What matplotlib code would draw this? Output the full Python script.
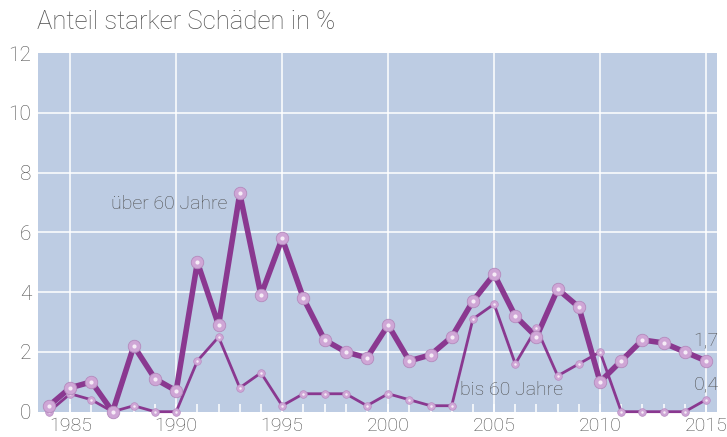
import matplotlib.pyplot as plt
import numpy as np

# Jahre und Anteile (in %)
years = np.arange(1984, 2016)
ueber60 = [0.2, 0.8, 1.0, 0.0, 2.2, 1.1, 0.7, 5.0, 2.9, 7.3, 3.9, 5.8, 3.8, 2.4, 2.0, 1.8,
           2.9, 1.7, 1.9, 2.5, 3.7, 4.6, 3.2, 2.5, 4.1, 3.5, 1.0, 1.7, 2.4, 2.3, 2.0, 1.7]
bis60 = [0.0, 0.6, 0.4, 0.0, 0.2, 0.0, 0.0, 1.7, 2.5, 0.8, 1.3, 0.2, 0.6, 0.6, 0.6, 0.2,
         0.6, 0.4, 0.2, 0.2, 3.1, 3.6, 1.6, 2.8, 1.2, 1.6, 2.0, 0.0, 0.0, 0.0, 0.0, 0.4]
year_ticks = [1985, 1990, 1995, 2000, 2005, 2010, 2015]
y_ticks = [0, 2, 4, 6, 8, 10, 12]

line_col = "#8a3890"
text_col = "#4f4f4f"
bg_col = "#bdcce3"

plt.rcParams['font.family'] = ['Roboto', 'DejaVu Sans']

fig = plt.figure(figsize=(7.27, 4.37), dpi=100)
ax = fig.add_axes([0.0523, 0.0579, 0.934, 0.8208])
ax.set_facecolor(bg_col)
for s in ax.spines.values():
    s.set_visible(False)

ax.set_xlim(1983.48, 2015.52)
ax.set_ylim(0, 12)

# Gitter
for x in year_ticks:
    ax.axvline(x, color="white", lw=1.1, zorder=1)
for y in y_ticks[1:-1]:
    ax.axhline(y, color="white", lw=1.1, zorder=1)

# Linien
ax.plot(years, bis60, color=line_col, lw=2.0, zorder=3, clip_on=False)
ax.plot(years, ueber60, color=line_col, lw=4.0, zorder=4, clip_on=False)

# Kugeln
ax.plot(years, bis60, ls="none", marker="o", ms=5.5, mfc="#cfa6d6", mec="#b88cc1", mew=0.5,
        zorder=5, clip_on=False)
ax.plot(years, bis60, ls="none", marker="o", ms=1.8, mfc="#f6ecf7", mec="none",
        zorder=6, clip_on=False)
ax.plot(years, ueber60, ls="none", marker="o", ms=9, mfc="#cfa6d6", mec="#b38abc", mew=0.6,
        zorder=7, clip_on=False)
ax.plot(years, ueber60, ls="none", marker="o", ms=3, mfc="#f6ecf7", mec="none",
        zorder=8, clip_on=False)

# Achsen
ax.set_xticks(year_ticks)
ax.set_xticks(years, minor=True)
ax.set_yticks(y_ticks)
ax.tick_params(axis="x", which="both", direction="in", colors="white", length=6, width=1.1,
               labelcolor=text_col, labelsize=14, pad=4)
ax.tick_params(axis="y", length=0, labelcolor=text_col, labelsize=15, pad=5)
for lab in ax.get_xticklabels() + ax.get_yticklabels():
    lab.set_fontweight("light")

# Beschriftungen
kw = dict(color=text_col, fontweight="light", fontsize=14)
ax.text(1992.4, 6.95, "über 60 Jahre", ha="right", va="center", **kw)
ax.text(2003.4, 0.72, "bis 60 Jahre", ha="left", va="center", **kw)
ax.text(2015.0, 2.05, "1,7", ha="center", va="bottom", **kw)
ax.text(2015.0, 0.62, "0,4", ha="center", va="bottom", **kw)

fig.text(0.051, 0.922, "Anteil starker Schäden in %", color=text_col, fontweight="light",
         fontsize=18.5, ha="left", va="bottom")

fig.savefig("out.png", dpi=100)
